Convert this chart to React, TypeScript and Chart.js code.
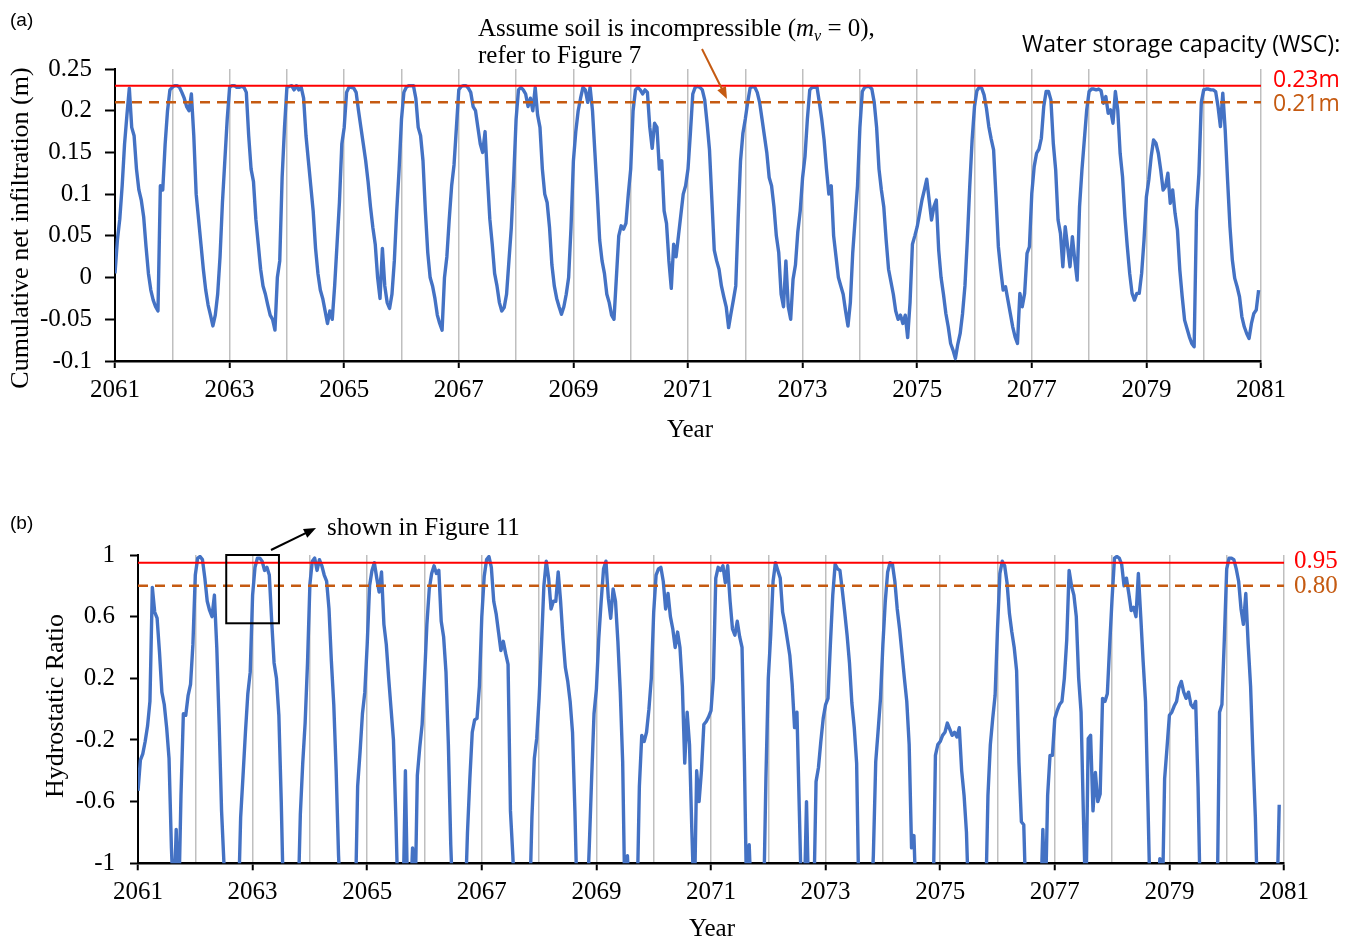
import { useEffect, useRef } from 'react';
import { Chart, registerables } from 'chart.js';

Chart.register(...registerables);

// ---------------- DATA ----------------
const START_YEAR = 2061;
const END_YEAR = 2081;
const SAMPLES_PER_YEAR = 24; // half-monthly readings

// (a) Cumulative net infiltration (m), one row per year
const infil2061 = [0.005, 0.045, 0.07, 0.11, 0.16, 0.195, 0.227, 0.18, 0.17, 0.13, 0.105, 0.093, 0.073, 0.037, 0.005, -0.015, -0.027, -0.035, -0.04, 0.11, 0.105, 0.16, 0.2, 0.225];
const infil2062 = [0.228, 0.23, 0.23, 0.228, 0.222, 0.215, 0.205, 0.2, 0.22, 0.17, 0.1, 0.07, 0.04, 0.01, -0.015, -0.033, -0.045, -0.058, -0.045, -0.02, 0.025, 0.09, 0.14, 0.19];
const infil2063 = [0.228, 0.23, 0.23, 0.228, 0.228, 0.229, 0.228, 0.222, 0.17, 0.13, 0.115, 0.07, 0.04, 0.01, -0.01, -0.02, -0.033, -0.045, -0.05, -0.063, 0.0, 0.02, 0.12, 0.18];
const infil2064 = [0.228, 0.229, 0.23, 0.225, 0.23, 0.225, 0.228, 0.215, 0.17, 0.14, 0.11, 0.08, 0.035, 0.005, -0.015, -0.025, -0.04, -0.055, -0.04, -0.05, -0.01, 0.04, 0.09, 0.16];
const infil2065 = [0.18, 0.222, 0.228, 0.228, 0.227, 0.222, 0.2, 0.18, 0.16, 0.14, 0.115, 0.085, 0.06, 0.04, 0.0, -0.025, 0.035, -0.01, -0.03, -0.037, -0.02, 0.02, 0.08, 0.13];
const infil2066 = [0.19, 0.222, 0.228, 0.23, 0.23, 0.23, 0.215, 0.18, 0.17, 0.14, 0.08, 0.03, 0.0, -0.01, -0.025, -0.045, -0.055, -0.063, 0.0, 0.025, 0.07, 0.11, 0.135, 0.18];
const infil2067 = [0.225, 0.229, 0.23, 0.23, 0.227, 0.222, 0.205, 0.2, 0.18, 0.16, 0.15, 0.175, 0.12, 0.07, 0.04, 0.005, -0.01, -0.03, -0.04, -0.036, -0.02, 0.02, 0.06, 0.12];
const infil2068 = [0.19, 0.225, 0.228, 0.225, 0.22, 0.205, 0.215, 0.2, 0.228, 0.195, 0.18, 0.13, 0.1, 0.09, 0.06, 0.015, -0.01, -0.025, -0.035, -0.044, -0.035, -0.02, 0.0, 0.06];
const infil2069 = [0.14, 0.175, 0.2, 0.215, 0.228, 0.225, 0.21, 0.228, 0.2, 0.15, 0.1, 0.045, 0.02, 0.005, -0.02, -0.03, -0.045, -0.05, 0.0, 0.05, 0.062, 0.058, 0.065, 0.1];
const infil2070 = [0.13, 0.2, 0.225, 0.228, 0.225, 0.22, 0.225, 0.222, 0.18, 0.155, 0.185, 0.18, 0.13, 0.14, 0.08, 0.065, 0.02, -0.013, 0.04, 0.025, 0.05, 0.075, 0.1, 0.11];
const infil2071 = [0.13, 0.173, 0.22, 0.228, 0.229, 0.228, 0.225, 0.213, 0.185, 0.153, 0.093, 0.033, 0.02, 0.01, -0.01, -0.023, -0.035, -0.06, -0.043, -0.027, -0.01, 0.07, 0.14, 0.173];
const infil2072 = [0.19, 0.21, 0.227, 0.229, 0.228, 0.222, 0.21, 0.19, 0.17, 0.15, 0.12, 0.11, 0.085, 0.05, 0.03, -0.02, -0.035, 0.02, -0.035, -0.05, -0.002, 0.015, 0.055, 0.08];
const infil2073 = [0.12, 0.145, 0.19, 0.225, 0.228, 0.228, 0.229, 0.21, 0.19, 0.165, 0.13, 0.1, 0.11, 0.05, 0.025, 0.0, -0.01, -0.02, -0.04, -0.058, -0.03, 0.03, 0.07, 0.11];
const infil2074 = [0.18, 0.223, 0.228, 0.229, 0.229, 0.226, 0.21, 0.18, 0.13, 0.105, 0.085, 0.045, 0.01, -0.005, -0.02, -0.04, -0.05, -0.045, -0.055, -0.045, -0.072, -0.03, 0.04, 0.05];
const infil2075 = [0.061, 0.077, 0.093, 0.105, 0.118, 0.093, 0.069, 0.085, 0.093, 0.033, 0.0, -0.02, -0.043, -0.059, -0.079, -0.087, -0.097, -0.08, -0.067, -0.043, -0.01, 0.045, 0.109, 0.165];
const infil2076 = [0.205, 0.224, 0.228, 0.227, 0.219, 0.203, 0.181, 0.166, 0.153, 0.097, 0.037, 0.009, -0.015, -0.011, -0.027, -0.043, -0.059, -0.071, -0.079, -0.019, -0.035, -0.019, 0.029, 0.037];
const infil2077 = [0.101, 0.133, 0.149, 0.154, 0.167, 0.205, 0.223, 0.223, 0.213, 0.161, 0.129, 0.069, 0.053, 0.013, 0.061, 0.037, 0.013, 0.049, 0.021, -0.003, 0.085, 0.129, 0.165, 0.201];
const infil2078 = [0.223, 0.226, 0.226, 0.225, 0.226, 0.224, 0.209, 0.217, 0.197, 0.201, 0.185, 0.223, 0.201, 0.149, 0.121, 0.073, 0.037, 0.005, -0.019, -0.027, -0.019, -0.019, 0.005, 0.045];
const infil2079 = [0.097, 0.117, 0.145, 0.165, 0.161, 0.149, 0.129, 0.105, 0.109, 0.125, 0.089, 0.105, 0.077, 0.057, 0.009, -0.023, -0.051, -0.061, -0.071, -0.079, -0.083, 0.08, 0.125, 0.21];
const infil2080 = [0.225, 0.226, 0.226, 0.225, 0.225, 0.223, 0.205, 0.181, 0.221, 0.177, 0.117, 0.061, 0.021, -0.001, -0.011, -0.023, -0.047, -0.059, -0.067, -0.073, -0.055, -0.043, -0.039, -0.015];

const infiltrationByYear = [
  infil2061, infil2062, infil2063, infil2064, infil2065, infil2066, infil2067, infil2068, infil2069, infil2070,
  infil2071, infil2072, infil2073, infil2074, infil2075, infil2076, infil2077, infil2078, infil2079, infil2080,
];

// (b) Hydrostatic ratio (values below -1 leave the plotted range)
const hydro2061 = [-0.53, -0.33, -0.29, -0.21, -0.11, 0.05, 0.79, 0.63, 0.59, 0.37, 0.11, 0.03, -0.12, -0.32, -0.9, -1.3, -0.78, -1.3, -0.56, -0.03, -0.04, 0.09, 0.16, 0.42];
const hydro2062 = [0.87, 0.98, 0.99, 0.97, 0.85, 0.7, 0.64, 0.6, 0.74, 0.4, -0.1, -0.66, -1.0, -1.3, -1.3, -1.3, -1.3, -1.3, -1.3, -0.7, -0.43, -0.15, 0.1, 0.24];
const hydro2063 = [0.74, 0.92, 0.98, 0.98, 0.96, 0.9, 0.92, 0.87, 0.57, 0.3, 0.2, -0.04, -0.6, -1.3, -1.3, -1.3, -1.3, -1.3, -1.3, -1.3, -0.68, -0.35, -0.09, 0.3];
const hydro2064 = [0.81, 0.96, 0.98, 0.9, 0.97, 0.93, 0.87, 0.83, 0.65, 0.31, 0.03, -0.4, -0.95, -1.3, -1.3, -1.3, -1.3, -1.3, -1.3, -1.3, -0.5, -0.28, -0.03, 0.11];
const hydro2065 = [0.42, 0.8, 0.9, 0.95, 0.85, 0.76, 0.89, 0.55, 0.42, 0.2, 0.0, -0.2, -0.7, -1.3, -1.3, -1.3, -0.4, -1.3, -1.3, -0.9, -1.3, -0.43, -0.25, -0.1];
const hydro2066 = [0.2, 0.55, 0.78, 0.88, 0.93, 0.88, 0.9, 0.57, 0.47, 0.24, -0.23, -0.88, -1.3, -1.3, -1.3, -1.3, -1.3, -1.3, -0.8, -0.45, -0.15, -0.07, -0.06, 0.15];
const hydro2067 = [0.6, 0.86, 0.97, 0.99, 0.92, 0.7, 0.62, 0.5, 0.38, 0.44, 0.36, 0.29, -0.66, -0.95, -1.3, -1.3, -1.3, -1.3, -1.3, -1.3, -1.3, -0.7, -0.32, -0.19];
const hydro2068 = [0.07, 0.42, 0.8, 0.96, 0.85, 0.65, 0.7, 0.7, 0.89, 0.7, 0.46, 0.27, 0.18, 0.05, -0.15, -0.66, -1.3, -1.3, -1.3, -1.3, -1.3, -0.9, -0.45, -0.03];
const hydro2069 = [0.13, 0.46, 0.7, 0.91, 0.96, 0.72, 0.59, 0.78, 0.7, 0.44, 0.11, -0.34, -1.3, -0.95, -1.3, -1.3, -1.3, -1.3, -0.5, -0.17, -0.21, -0.15, 0.0, 0.2];
const hydro2070 = [0.63, 0.87, 0.91, 0.92, 0.83, 0.65, 0.75, 0.6, 0.52, 0.4, 0.5, 0.4, 0.15, -0.35, -0.02, -0.23, -0.8, -1.3, -0.4, -0.6, -0.4, -0.1, -0.08, -0.05];
const hydro2071 = [-0.01, 0.2, 0.85, 0.92, 0.9, 0.93, 0.82, 0.93, 0.7, 0.52, 0.48, 0.57, 0.47, 0.4, -0.34, -1.3, -0.88, -1.3, -1.3, -1.3, -1.3, -1.3, -1.3, -0.45];
const hydro2072 = [0.2, 0.48, 0.83, 0.95, 0.9, 0.85, 0.63, 0.55, 0.45, 0.35, 0.16, -0.12, -0.02, -0.66, -1.3, -1.3, -0.6, -1.3, -1.3, -1.3, -0.47, -0.38, -0.21, -0.06];
const hydro2073 = [0.03, 0.07, 0.42, 0.74, 0.94, 0.91, 0.9, 0.77, 0.63, 0.48, 0.3, 0.04, -0.12, -0.35, -1.3, -1.3, -1.3, -1.3, -1.3, -1.3, -0.95, -0.34, -0.14, 0.07];
const hydro2074 = [0.42, 0.7, 0.89, 0.95, 0.94, 0.83, 0.65, 0.52, 0.36, 0.2, 0.05, -0.23, -0.9, -0.82, -1.3, -1.3, -1.3, -1.3, -1.3, -1.3, -1.3, -1.3, -0.3, -0.23];
const hydro2075 = [-0.21, -0.17, -0.15, -0.09, -0.13, -0.17, -0.15, -0.18, -0.12, -0.4, -0.56, -0.8, -1.3, -1.3, -1.3, -1.3, -1.3, -1.3, -1.3, -1.3, -0.56, -0.23, -0.06, 0.09];
const hydro2076 = [0.52, 0.88, 0.96, 0.93, 0.82, 0.62, 0.5, 0.4, 0.25, -0.35, -0.73, -0.75, -1.3, -1.3, -1.3, -1.3, -1.3, -1.3, -1.3, -0.78, -1.3, -0.56, -0.3, -0.3];
const hydro2077 = [-0.06, -0.01, 0.03, 0.05, 0.2, 0.45, 0.9, 0.8, 0.74, 0.6, 0.2, -0.02, -0.7, -1.3, -0.19, -0.17, -0.66, -0.41, -0.6, -0.55, 0.07, 0.05, 0.1, 0.42];
const hydro2078 = [0.72, 0.98, 0.99, 0.98, 0.94, 0.8, 0.85, 0.75, 0.64, 0.66, 0.6, 0.88, 0.6, 0.31, 0.05, -0.6, -1.3, -1.3, -1.3, -1.3, -0.97, -1.3, -0.45, -0.25];
const hydro2079 = [-0.04, -0.02, 0.02, 0.05, 0.14, 0.18, 0.11, 0.07, 0.11, 0.03, 0.01, 0.05, -0.5, -1.3, -1.3, -1.3, -1.3, -1.3, -1.3, -1.3, -1.3, -0.02, 0.03, 0.45];
const hydro2080 = [0.91, 0.98, 0.98, 0.97, 0.91, 0.83, 0.65, 0.55, 0.75, 0.42, 0.15, -0.3, -0.7, -1.3, -1.3, -1.3, -1.3, -1.3, -1.3, -1.3, -1.3, -1.3, -0.62];

const hydroByYear = [
  hydro2061, hydro2062, hydro2063, hydro2064, hydro2065, hydro2066, hydro2067, hydro2068, hydro2069, hydro2070,
  hydro2071, hydro2072, hydro2073, hydro2074, hydro2075, hydro2076, hydro2077, hydro2078, hydro2079, hydro2080,
];

// Reference levels
const wscLevels = [0.23, 0.21];
const wscLabels = ['0.23m', '0.21m'];
const ratioLevels = [0.95, 0.8];
const ratioLabels = ['0.95', '0.80'];

// Axis settings
const infilAxis = { min: -0.1, max: 0.25, step: 0.05 };
const ratioAxis = { min: -1, max: 1, step: 0.4 };

// Region highlighted in (b)
const fig11Box = { fromYear: 2062.54, toYear: 2063.46, low: 0.557, high: 1.0 };

// ---------------- STYLE ----------------
const BLUE = '#4472C4';
const RED = '#FF0000';
const ORANGE = '#C55A11';
const GRID = '#BFBFBF';
const serif = (px: number) => `${px}px "Liberation Serif", "Times New Roman", serif`;
const sans = (px: number) => `${px}px "Open Sans", "Liberation Sans", sans-serif`;

function toPoints(byYear: number[][]) {
  const pts: { x: number; y: number }[] = [];
  byYear.forEach((vals, yi) => {
    vals.forEach((v, i) => pts.push({ x: START_YEAR + yi + i / SAMPLES_PER_YEAR, y: v }));
  });
  return pts;
}

function levelLine(v: number) {
  return [
    { x: START_YEAR, y: v },
    { x: END_YEAR, y: v },
  ];
}

function drawArrow(ctx: CanvasRenderingContext2D, x1: number, y1: number, x2: number, y2: number, color: string, width: number, head = 13) {
  const ang = Math.atan2(y2 - y1, x2 - x1);
  ctx.save();
  ctx.strokeStyle = color;
  ctx.fillStyle = color;
  ctx.lineWidth = width;
  ctx.beginPath();
  ctx.moveTo(x1, y1);
  ctx.lineTo(x2 - Math.cos(ang) * head * 0.8, y2 - Math.sin(ang) * head * 0.8);
  ctx.stroke();
  ctx.beginPath();
  ctx.moveTo(x2, y2);
  ctx.lineTo(x2 - head * Math.cos(ang - 0.38), y2 - head * Math.sin(ang - 0.38));
  ctx.lineTo(x2 - head * Math.cos(ang + 0.38), y2 - head * Math.sin(ang + 0.38));
  ctx.closePath();
  ctx.fill();
  ctx.restore();
}

function fmt(v: number) {
  const r = Math.round(v * 100) / 100;
  return String(r === 0 ? 0 : r);
}

function buildConfig(opts: {
  series: { x: number; y: number }[];
  levels: number[];
  axis: { min: number; max: number; step: number };
  yAxisWidth: number;
  padding: { top: number; right: number; bottom: number };
  yTickLen: number;
  yTickPad: number;
  overlay: any;
}): any {
  return {
    type: 'line',
    data: {
      datasets: [
        { data: levelLine(opts.levels[0]), borderColor: RED, borderWidth: 2, pointRadius: 0 },
        { data: levelLine(opts.levels[1]), borderColor: ORANGE, borderWidth: 2.5, borderDash: [10, 7], pointRadius: 0 },
        { data: opts.series, borderColor: BLUE, borderWidth: 3.4, pointRadius: 0, tension: 0, borderJoinStyle: 'round' },
      ],
    },
    options: {
      responsive: false,
      animation: false,
      events: [],
      layout: { padding: { left: 0, top: opts.padding.top, right: opts.padding.right, bottom: opts.padding.bottom } },
      plugins: { legend: { display: false }, tooltip: { enabled: false } },
      scales: {
        x: {
          type: 'linear',
          min: START_YEAR,
          max: END_YEAR,
          afterFit: (s: any) => {
            s.height = 60;
          },
          ticks: {
            stepSize: 1,
            autoSkip: false,
            maxRotation: 0,
            padding: 7,
            color: '#000',
            font: { family: '"Liberation Serif", "Times New Roman", serif', size: 25 },
            callback: (v: any) => (Math.round(v) % 2 === 1 ? String(Math.round(v)) : ''),
          },
          grid: {
            color: (c: any) => (c.tick && Math.round(c.tick.value) === START_YEAR ? 'rgba(0,0,0,0)' : GRID),
            lineWidth: 1.5,
            tickColor: (c: any) => (c.tick && Math.round(c.tick.value) % 2 === 1 ? '#000' : 'rgba(0,0,0,0)'),
            tickLength: 7,
            tickWidth: 2,
          },
          border: { color: '#000', width: 2.5 },
        },
        y: {
          type: 'linear',
          min: opts.axis.min,
          max: opts.axis.max,
          afterFit: (s: any) => {
            s.width = opts.yAxisWidth;
          },
          ticks: {
            stepSize: opts.axis.step,
            padding: opts.yTickPad,
            color: '#000',
            font: { family: '"Liberation Serif", "Times New Roman", serif', size: 25 },
            callback: (v: any) => fmt(v),
          },
          grid: { drawOnChartArea: false, tickLength: opts.yTickLen, tickColor: '#000', tickWidth: 2 },
          border: { color: '#000', width: 2 },
        },
      },
    },
    plugins: [opts.overlay],
  };
}

const overlayA = {
  id: 'overlayA',
  afterDraw(chart: any) {
    const ctx: CanvasRenderingContext2D = chart.ctx;
    ctx.save();
    ctx.textBaseline = 'alphabetic';
    ctx.fillStyle = '#000';
    ctx.textAlign = 'left';
    ctx.font = '19px "Liberation Sans", Arial, sans-serif';
    ctx.fillText('(a)', 10, 26);

    ctx.font = serif(25);
    ctx.textAlign = 'center';
    ctx.fillText('Year', 690, 437);
    ctx.save();
    ctx.translate(28, 228);
    ctx.rotate(-Math.PI / 2);
    ctx.font = serif(26);
    ctx.fillText('Cumulative net infiltration (m)', 0, 0);
    ctx.restore();

    // note
    ctx.textAlign = 'left';
    let x = 478;
    const by = 36;
    const s1 = 'Assume soil is incompressible (';
    ctx.font = serif(25);
    ctx.fillText(s1, x, by);
    x += ctx.measureText(s1).width;
    ctx.font = 'italic ' + serif(25);
    ctx.fillText('m', x, by);
    x += ctx.measureText('m').width;
    ctx.font = 'italic ' + serif(16);
    ctx.fillText('v', x, by + 5);
    x += ctx.measureText('v').width;
    ctx.font = serif(25);
    ctx.fillText(' = 0),', x, by);
    ctx.fillText('refer to Figure 7', 478, 63);
    drawArrow(ctx, 702, 49, 727, 99, ORANGE, 2);

    // WSC legend
    ctx.font = sans(23);
    ctx.fillStyle = '#000';
    ctx.fillText('Water storage capacity (WSC):', 1022, 52);
    ctx.fillStyle = RED;
    ctx.fillText(wscLabels[0], 1273, 87);
    ctx.fillStyle = ORANGE;
    ctx.fillText(wscLabels[1], 1273, 111);
    ctx.restore();
  },
};

const overlayB = {
  id: 'overlayB',
  afterDraw(chart: any) {
    const ctx: CanvasRenderingContext2D = chart.ctx;
    const xs = chart.scales.x;
    const ys = chart.scales.y;
    ctx.save();
    ctx.textBaseline = 'alphabetic';
    ctx.fillStyle = '#000';
    ctx.textAlign = 'left';
    ctx.font = '19px "Liberation Sans", Arial, sans-serif';
    ctx.fillText('(b)', 10, 60);

    ctx.font = serif(25);
    ctx.textAlign = 'center';
    ctx.fillText('Year', 712, 467);
    ctx.save();
    ctx.translate(63, 237);
    ctx.rotate(-Math.PI / 2);
    ctx.font = serif(26);
    ctx.fillText('Hydrostatic Ratio', 0, 0);
    ctx.restore();

    // highlighted region box
    const bx1 = xs.getPixelForValue(fig11Box.fromYear);
    const bx2 = xs.getPixelForValue(fig11Box.toYear);
    const by1 = ys.getPixelForValue(fig11Box.high);
    const by2 = ys.getPixelForValue(fig11Box.low);
    ctx.strokeStyle = '#000';
    ctx.lineWidth = 2;
    ctx.strokeRect(bx1, by1, bx2 - bx1, by2 - by1);
    drawArrow(ctx, 271, 81, 316, 59, '#000', 2);
    ctx.textAlign = 'left';
    ctx.font = serif(25);
    ctx.fillText('shown in Figure 11', 327, 66);

    ctx.fillStyle = RED;
    ctx.fillText(ratioLabels[0], 1294, 99);
    ctx.fillStyle = ORANGE;
    ctx.fillText(ratioLabels[1], 1294, 124);
    ctx.restore();
  },
};

export default function App() {
  const refA = useRef<HTMLCanvasElement | null>(null);
  const refB = useRef<HTMLCanvasElement | null>(null);

  useEffect(() => {
    if (!refA.current || !refB.current) return;
    const chartA = new Chart(
      refA.current,
      buildConfig({
        series: toPoints(infiltrationByYear),
        levels: wscLevels,
        axis: infilAxis,
        yAxisWidth: 115,
        padding: { top: 69, right: 93, bottom: 48 },
        yTickLen: 10,
        yTickPad: 13,
        overlay: overlayA,
      })
    );
    const chartB = new Chart(
      refB.current,
      buildConfig({
        series: toPoints(hydroByYear),
        levels: ratioLevels,
        axis: ratioAxis,
        yAxisWidth: 138,
        padding: { top: 86, right: 70, bottom: 14.7 },
        yTickLen: 8,
        yTickPad: 15,
        overlay: overlayB,
      })
    );
    return () => {
      chartA.destroy();
      chartB.destroy();
    };
  }, []);

  return (
    <div style={{ position: 'absolute', left: 0, top: 0, width: 1354, height: 938, background: '#fff' }}>
      <canvas ref={refA} width={1354} height={469} style={{ position: 'absolute', left: 0, top: 0, display: 'block' }} />
      <canvas ref={refB} width={1354} height={469} style={{ position: 'absolute', left: 0, top: 469, display: 'block' }} />
    </div>
  );
}
